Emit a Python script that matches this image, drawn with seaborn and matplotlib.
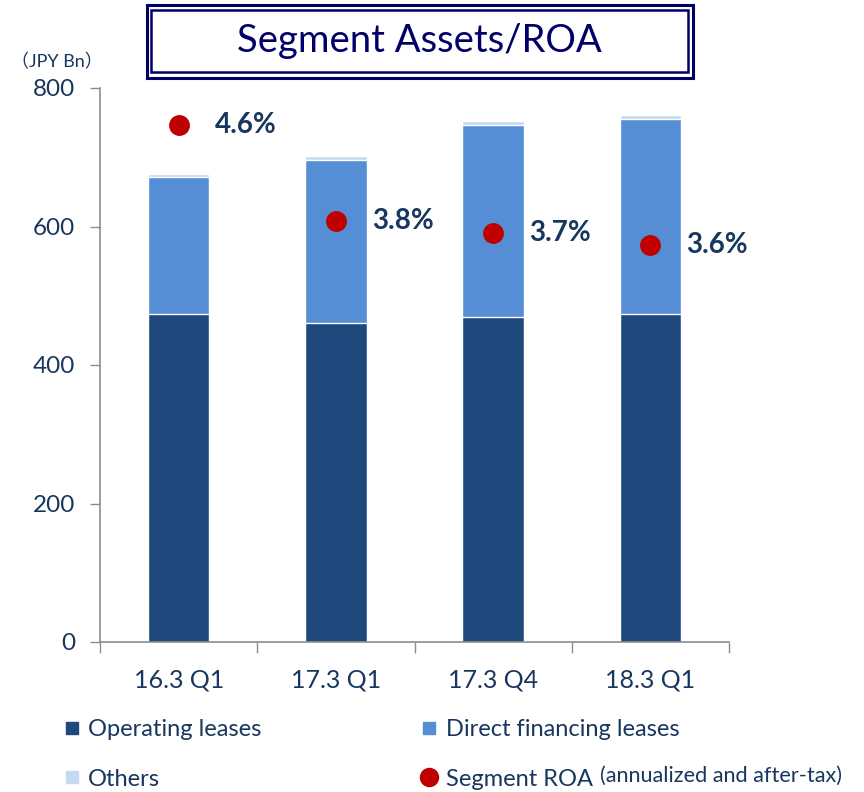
import numpy as np
import pandas as pd
import seaborn as sns
import matplotlib.pyplot as plt
from matplotlib.lines import Line2D
from matplotlib.patches import Rectangle

# ── data ──
periods = ["16.3 Q1", "17.3 Q1", "17.3 Q4", "18.3 Q1"]
operating = [473, 460, 470, 473]
direct_fin = [198, 236, 276, 282]
others = [5, 6, 6, 6]
roa = [4.6, 3.8, 3.7, 3.6]
roa_labels = ["4.6%", "3.8%", "3.7%", "3.6%"]

NAVY, MID, LIGHT, RED = "#1F497D", "#558ED5", "#C6D9F1", "#C00000"
TXT, SPINE, BOX = "#17375E", "#8C8C8C", "#000066"

sns.set_theme(style="white")
plt.rcParams["font.family"] = ["Lato", "Noto Sans CJK JP", "DejaVu Sans"]

df = pd.DataFrame({"period": periods, "op": operating,
                   "dfl": direct_fin, "oth": others})
df["lvl2"] = df["op"] + df["dfl"]
df["lvl3"] = df["lvl2"] + df["oth"]

fig = plt.figure(figsize=(8.64, 7.92), dpi=100, facecolor="white")
ax = fig.add_axes([100/864, 1-642/792, 629/864, 554/792])

for col, c in [("lvl3", LIGHT), ("lvl2", MID), ("op", NAVY)]:
    sns.barplot(data=df, x="period", y=col, color=c, width=0.39,
                edgecolor="white", linewidth=1.0, saturation=1, ax=ax)

ax.set_ylim(0, 800)
ax.set_xlim(-0.5, 3.5)
ax.set_yticks([0, 200, 400, 600, 800])
ax.set_xlabel("")
ax.set_ylabel("")
ax.tick_params(axis="y", colors=SPINE, labelcolor=TXT, labelsize=17.5,
               length=7, width=1, left=True, pad=11)
ax.set_xticks([-0.5, 0.5, 1.5, 2.5, 3.5])
ax.set_xticklabels([])
ax.set_xticks(range(4), minor=True)
ax.set_xticklabels(periods, minor=True)
ax.tick_params(axis="x", which="major", colors=SPINE, length=8, width=1,
               bottom=True)
ax.tick_params(axis="x", which="minor", length=0, labelcolor=TXT,
               labelsize=18, pad=19)
for s in ["top", "right"]:
    ax.spines[s].set_visible(False)
for s in ["left", "bottom"]:
    ax.spines[s].set_color(SPINE)
    ax.spines[s].set_linewidth(1.2)

# ROA on hidden secondary scale
ax2 = ax.twinx()
sns.pointplot(x=periods, y=roa, color=RED, linestyle="none", markers="o",
              markersize=13, ax=ax2)
ax2.set_ylim(0.283, 4.91)
ax2.set_xlim(-0.5, 3.5)
ax2.axis("off")
for i, (v, lab) in enumerate(zip(roa, roa_labels)):
    ax2.annotate(lab, (i, v), xytext=(26, 0), textcoords="offset points",
                 va="center", ha="left", fontsize=20, fontweight="bold",
                 color=TXT)

fig.text(57/864, 1-62/792, "（JPY Bn）", ha="center", va="center",
         fontsize=13, color=TXT)

# title box with double border
fig.patches.append(Rectangle((147/864, 1-78/792), 546/864, 73/792,
                             transform=fig.transFigure, fill=False,
                             edgecolor=BOX, linewidth=2.2))
fig.patches.append(Rectangle((151/864, 1-72/792), 537/864, 62/792,
                             transform=fig.transFigure, fill=False,
                             edgecolor=BOX, linewidth=1.8))
fig.text(419/864, 1-41/792, "Segment Assets/ROA", ha="center",
         va="center", fontsize=27.5, color=BOX)

handles = [
    Line2D([], [], ls="none", marker="s", ms=8, color=NAVY),
    Line2D([], [], ls="none", marker="s", ms=8, color=LIGHT),
    Line2D([], [], ls="none", marker="s", ms=8, color=MID),
    Line2D([], [], ls="none", marker="o", ms=13, color=RED),
]
labels = ["Operating leases", "Others", "Direct financing leases",
          "Segment ROA"]
fig.legend(handles, labels, ncol=2, loc="upper left",
           bbox_to_anchor=(42/864, 1-698/792), frameon=False,
           fontsize=17, labelcolor=TXT, handlelength=0.7,
           handletextpad=0.35, columnspacing=6.75, labelspacing=1.2)
fig.text(600/864, 1-776/792, "(annualized and after-tax)", ha="left",
         va="center", fontsize=15.6, color=TXT)

fig.savefig("out.png", dpi=100, facecolor="white")
